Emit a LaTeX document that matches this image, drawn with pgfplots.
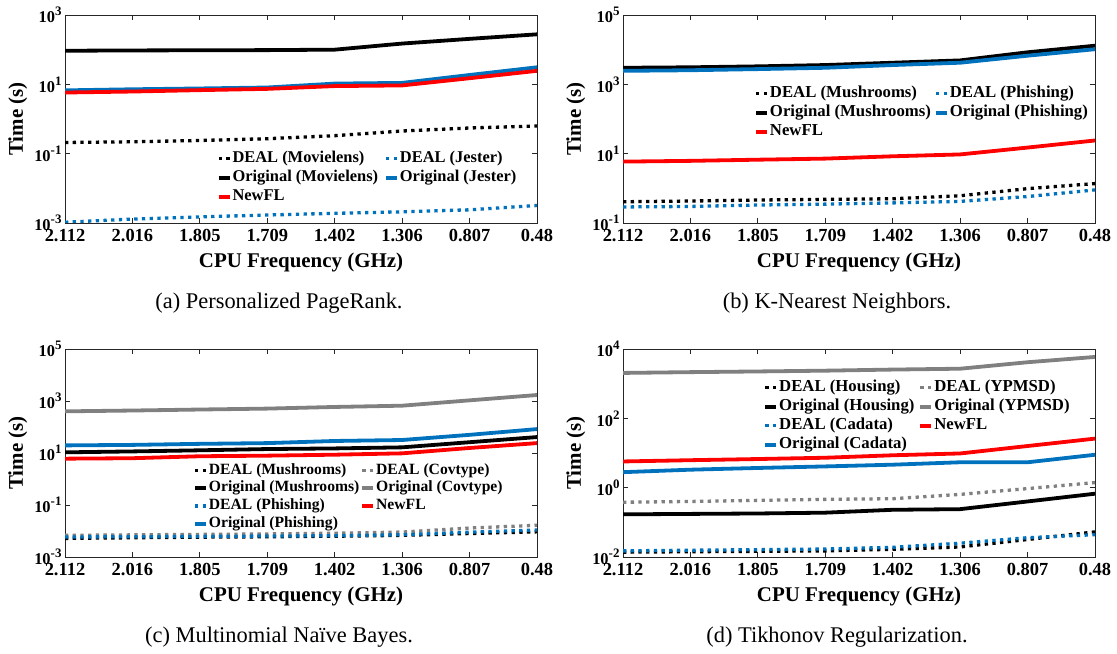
\documentclass[border=0pt]{standalone}
\usepackage{fontspec}
\setmainfont{Liberation Serif}
\usepackage{pgfplots}
\pgfplotsset{compat=1.18}

\definecolor{mblue}{RGB}{0,114,189}
\definecolor{mred}{RGB}{255,0,0}
\definecolor{mgray}{RGB}{128,128,128}
\definecolor{axgray}{RGB}{38,38,38}

\newcommand{\fs}[1]{\fontsize{#1}{#1}\selectfont}
% power of ten with a large MATLAB-like exponent
\newcommand{\tp}[1]{10\raisebox{7bp}{\fs{13}\bfseries #1}}

\pgfplotsset{
  panel/.style={
    width=472bp, height=208bp, scale only axis, anchor=south west,
    xmin=0, xmax=7, xtick={0,...,7},
    xticklabels={2.112,2.016,1.805,1.709,1.402,1.306,0.807,0.48},
    yminorticks=false,
    tick align=inside, major tick length=5bp,
    axis line style={line width=0.8bp, axgray},
    every tick/.style={axgray, line width=0.8bp},
    xticklabel style={font=\fs{18.5}\bfseries, yshift=-3bp},
    yticklabel style={font=\fs{16.5}\bfseries},
    xlabel={CPU Frequency (GHz)}, ylabel={Time (s)},
    xlabel style={at={(axis description cs:0.5,-0.192)}, anchor=center, font=\fs{21}\bfseries},
    ylabel style={at={(axis description cs:-0.1,0.5)}, anchor=center, font=\fs{21}\bfseries},
    legend columns=2,
    legend style={draw=none, fill=none, inner sep=0pt, anchor=north west,
      font=\fs{16.5}\bfseries, row sep=2bp,
      nodes={inner sep=1bp, text height=11bp, text depth=4bp}},
    legend cell align=left,
    legend image code/.code={\draw[##1] (0bp,0bp) -- (11bp,0bp);},
  },
  dl/.style={line width=3.3bp, dash pattern=on 3.3bp off 4.4bp},
  sl/.style={line width=3.8bp},
}

\begin{document}
\begin{tikzpicture}
\useasboundingbox (0,0) rectangle (1117bp,654bp);

% (a) Personalized PageRank
\begin{axis}[panel, ymode=log, at={(65bp,431bp)},
  ymin=1e-3, ymax=1e3, ytick={1e-3,1e-1,1e1,1e3},
  yticklabels={\tp{-3},\tp{-1},\tp{1},\tp{3}},
  legend style={at={(axis description cs:0.321,0.351)},
    /tikz/every even column/.append style={column sep=5bp}}]
\addplot[black, dl] coordinates {(0,0.21) (1,0.22) (2,0.24) (3,0.27) (4,0.33) (5,0.45) (6,0.55) (7,0.63)};
\addplot[mblue, dl] coordinates {(0,0.00105) (1,0.0013) (2,0.0015) (3,0.0017) (4,0.0019) (5,0.0021) (6,0.0024) (7,0.0032)};
\addplot[black, sl] coordinates {(0,93) (1,95) (2,96) (3,97) (4,100) (5,150) (6,205) (7,277)};
\addplot[mblue, sl] coordinates {(0,6.7) (1,7.2) (2,7.6) (3,8.1) (4,10.5) (5,11) (6,18.6) (7,31)};
\addplot[mred, sl] coordinates {(0,5.8) (1,6.2) (2,6.8) (3,7.4) (4,8.9) (5,9.3) (6,15) (7,24.5)};
\legend{DEAL (Movielens),DEAL (Jester),Original (Movielens),Original (Jester),NewFL}
\end{axis}

% (b) K-Nearest Neighbors
\begin{axis}[panel, ymode=log, at={(623bp,431bp)},
  ymin=1e-1, ymax=1e5, ytick={1e-1,1e1,1e3,1e5},
  yticklabels={\tp{-1},\tp{1},\tp{3},\tp{5}},
  legend style={at={(axis description cs:0.2775,0.663)}, font=\fs{16.8}\bfseries,
    /tikz/every even column/.append style={column sep=2bp}}]
\addplot[black, dl] coordinates {(0,0.41) (1,0.43) (2,0.46) (3,0.48) (4,0.5) (5,0.61) (6,0.98) (7,1.37)};
\addplot[mblue, dl] coordinates {(0,0.29) (1,0.30) (2,0.33) (3,0.35) (4,0.38) (5,0.42) (6,0.58) (7,0.9)};
\addplot[black, sl] coordinates {(0,3000) (1,3100) (2,3300) (3,3600) (4,4200) (5,4900) (6,8400) (7,13000)};
\addplot[mblue, sl] coordinates {(0,2450) (1,2550) (2,2750) (3,3000) (4,3600) (5,4200) (6,6700) (7,10300)};
\addplot[mred, sl] coordinates {(0,5.9) (1,6.2) (2,6.7) (3,7.2) (4,8.4) (5,9.5) (6,15) (7,24)};
\legend{DEAL (Mushrooms),DEAL (Phishing),Original (Mushrooms),Original (Phishing),NewFL}
\end{axis}

% (c) Multinomial Naive Bayes
\begin{axis}[panel, ymode=log, at={(65bp,97bp)},
  ymin=1e-3, ymax=1e5, ytick={1e-3,1e-1,1e1,1e3,1e5},
  yticklabels={\tp{-3},\tp{-1},\tp{1},\tp{3},\tp{5}},
  legend style={at={(axis description cs:0.271,0.457)}, row sep=0.7bp, font=\fs{15.7}\bfseries,
    /tikz/every even column/.append style={column sep=0bp}}]
\addplot[black, dl] coordinates {(0,0.0052) (1,0.0055) (2,0.0058) (3,0.006) (4,0.0063) (5,0.0068) (6,0.008) (7,0.0093)};
\addplot[mgray, dl] coordinates {(0,0.0068) (1,0.0071) (2,0.0074) (3,0.0077) (4,0.0082) (5,0.0091) (6,0.013) (7,0.0166)};
\addplot[black, sl] coordinates {(0,10.6) (1,11.5) (2,12.7) (3,14.2) (4,15) (5,16.5) (6,26) (7,41)};
\addplot[mgray, sl] coordinates {(0,400) (1,430) (2,470) (3,510) (4,590) (5,660) (6,1060) (7,1700)};
\addplot[mblue, dl] coordinates {(0,0.0059) (1,0.006) (2,0.0062) (3,0.0064) (4,0.0066) (5,0.0072) (6,0.009) (7,0.011)};
\addplot[mred, sl] coordinates {(0,6.05) (1,6.3) (2,7.5) (3,7.9) (4,8.6) (5,9.7) (6,15.6) (7,24)};
\addplot[mblue, sl] coordinates {(0,19.6) (1,20.5) (2,22.5) (3,24) (4,29) (5,31.6) (6,50) (7,83)};
\legend{DEAL (Mushrooms),DEAL (Covtype),Original (Mushrooms),Original (Covtype),DEAL (Phishing),NewFL,Original (Phishing)}
\end{axis}

% (d) Tikhonov Regularization
\begin{axis}[panel, ymode=log, at={(623bp,97bp)},
  ymin=1e-2, ymax=1e4, ytick={1e-2,1e0,1e2,1e4},
  yticklabels={\tp{-2},\tp{0},\tp{2},\tp{4}},
  legend style={at={(axis description cs:0.297,0.856)}, font=\fs{16.8}\bfseries,
    /tikz/every even column/.append style={column sep=3bp}}]
\addplot[black, dl] coordinates {(0,0.0138) (1,0.0142) (2,0.0146) (3,0.015) (4,0.0167) (5,0.0195) (6,0.032) (7,0.053)};
\addplot[mgray, dl] coordinates {(0,0.38) (1,0.40) (2,0.43) (3,0.46) (4,0.48) (5,0.64) (6,0.94) (7,1.4)};
\addplot[black, sl] coordinates {(0,0.17) (1,0.175) (2,0.18) (3,0.19) (4,0.23) (5,0.24) (6,0.40) (7,0.67)};
\addplot[mgray, sl] coordinates {(0,2040) (1,2150) (2,2250) (3,2370) (4,2550) (5,2700) (6,4150) (7,5900)};
\addplot[mblue, dl] coordinates {(0,0.015) (1,0.0157) (2,0.0163) (3,0.017) (4,0.019) (5,0.025) (6,0.036) (7,0.044)};
\addplot[mred, sl] coordinates {(0,5.7) (1,6.2) (2,6.7) (3,7.3) (4,8.6) (5,9.7) (6,15.9) (7,26)};
\addplot[mblue, sl] coordinates {(0,2.8) (1,3.3) (2,3.7) (3,4.1) (4,4.6) (5,5.4) (6,5.4) (7,8.9)};
\legend{DEAL (Housing),DEAL (YPMSD),Original (Housing),Original (YPMSD),DEAL (Cadata),NewFL,Original (Cadata)}
\end{axis}

\node[font=\fs{22.5}] at (279bp,351bp) {(a) Personalized PageRank.};
\node[font=\fs{22.5}] at (837bp,351bp) {(b) K-Nearest Neighbors.};
\node[font=\fs{22.5}] at (279bp,17bp) {(c) Multinomial Naïve Bayes.};
\node[font=\fs{22.5}] at (837bp,17bp) {(d) Tikhonov Regularization.};
\end{tikzpicture}
\end{document}
